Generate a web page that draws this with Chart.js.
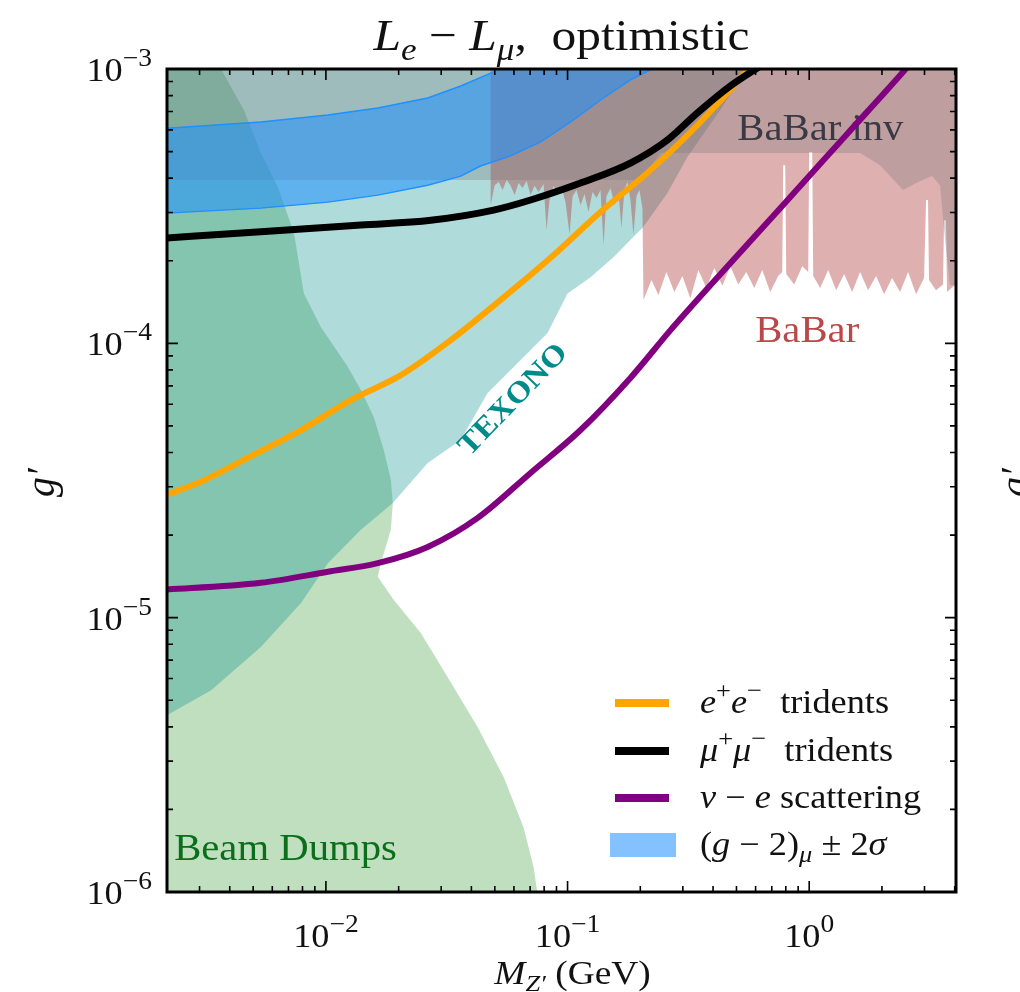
<!DOCTYPE html>
<html>
<head>
<meta charset="utf-8">
<script src="https://cdn.jsdelivr.net/npm/chart.js@4.4.0/dist/chart.umd.min.js"></script>
<style>
  html, body { margin: 0; padding: 0; background: #fff; }
  canvas { display: block; }
</style>
</head>
<body>
<canvas id="myChart" width="1020" height="992"></canvas>
<script>
// axis ranges: M_Z' in GeV, coupling g'
const massMin = 0.0022;
const massMax = 4.05;
const gMin = 1e-6;
const gMax = 1e-3;
// closing values used to shut the exclusion regions outside the frame
const massFloor = 0.002;
const gCeil = 1.2e-3;
const gFloor = 9e-7;

const xTickValues = [1e-2, 1e-1, 1];
const xTickLabels = ['10^−2', '10^−1', '10^0'];
const yTickValues = [1e-6, 1e-5, 1e-4, 1e-3];
const yTickLabels = ['10^−6', '10^−5', '10^−4', '10^−3'];

// e+e- tridents sensitivity
const eeMass = [0.002, 0.00304, 0.0049, 0.00789, 0.01269, 0.02042, 0.03286, 0.05285, 0.0851, 0.1369, 0.2203, 0.3548, 0.5546, 0.598];
const eeG = [2.73e-5, 3.13e-5, 3.88e-5, 4.83e-5, 6.21e-5, 7.66e-5, 1.028e-4, 1.44e-4, 2.05e-4, 3.01e-4, 4.28e-4, 6.41e-4, 9.92e-4, 1.08e-3];

// mu+mu- tridents sensitivity
const mmMass = [0.002, 0.00538, 0.01396, 0.02716, 0.04943, 0.07031, 0.1132, 0.182, 0.259, 0.3446, 0.4715, 0.6898];
const mmG = [2.41e-4, 2.55e-4, 2.7e-4, 2.81e-4, 3.06e-4, 3.33e-4, 3.84e-4, 4.54e-4, 5.51e-4, 6.92e-4, 8.67e-4, 1.08e-3];

// nu-e scattering sensitivity
const nueMass = [0.002, 0.00538, 0.01019, 0.0164, 0.02638, 0.04249, 0.07031, 0.1132, 0.182, 0.2667, 0.4011, 0.7586, 1.436, 2.445, 2.742];
const nueG = [1.26e-5, 1.34e-5, 1.47e-5, 1.58e-5, 1.81e-5, 2.31e-5, 3.37e-5, 4.83e-5, 7.48e-5, 1.117e-4, 1.673e-4, 3.11e-4, 5.8e-4, 9.75e-4, 1.097e-3];

// (g-2)_mu +- 2 sigma band edges
const bandUpperMass = [0.002, 0.00538, 0.01019, 0.0164, 0.02638, 0.03614, 0.04943, 0.05543];
const bandUpperG = [6.05e-4, 6.41e-4, 6.8e-4, 7.21e-4, 7.84e-4, 8.67e-4, 9.75e-4, 1.06e-3];
const bandLowerMass = [0.002, 0.00538, 0.01019, 0.0164, 0.02638, 0.03614, 0.04365, 0.05813, 0.07735, 0.1029, 0.1369, 0.1821, 0.2203, 0.254];
const bandLowerG = [2.97e-4, 3.11e-4, 3.27e-4, 3.47e-4, 3.77e-4, 4.07e-4, 4.43e-4, 4.82e-4, 5.42e-4, 6.41e-4, 7.71e-4, 9.12e-4, 9.92e-4, 1.08e-3];

// beam dump exclusion, upper/right edge from top down to the bottom
const beamMass = [0.003613, 0.00458, 0.00538, 0.00633, 0.00738, 0.00811, 0.00953, 0.01233, 0.01396, 0.01579, 0.01737, 0.01857, 0.01892, 0.01857, 0.01687, 0.0164, 0.0191, 0.0247, 0.03193, 0.04249, 0.05445, 0.06577, 0.07238, 0.07519];
const beamG = [1.03e-3, 7.09e-4, 4.94e-4, 3.71e-4, 2.52e-4, 1.52e-4, 1.146e-4, 8.2e-5, 6.76e-5, 5.38e-5, 4.08e-5, 3.18e-5, 2.62e-5, 2.09e-5, 1.58e-5, 1.41e-5, 1.16e-5, 8.79e-6, 6.07e-6, 3.99e-6, 2.62e-6, 1.72e-6, 1.23e-6, 9.75e-7];

// TEXONO exclusion, lower edge
const texonoMass = [0.002, 0.00335, 0.00538, 0.00789, 0.01019, 0.01396, 0.01892, 0.02638, 0.03614, 0.04667, 0.05984, 0.08264, 0.1, 0.1245, 0.1548, 0.2061, 0.259, 0.3133, 0.4285, 0.5813];
const texonoG = [4.2e-6, 5.44e-6, 7.82e-6, 1.13e-5, 1.58e-5, 2.09e-5, 2.62e-5, 3.66e-5, 4.44e-5, 6.59e-5, 8.2e-5, 1.09e-4, 1.52e-4, 1.74e-4, 2.06e-4, 2.66e-4, 3.53e-4, 4.78e-4, 7.09e-4, 1.08e-3];

// BaBar (visible) exclusion, jagged lower edge
const babarMass = [0.04806, 0.04993, 0.05186, 0.05387, 0.05596, 0.05813, 0.06039, 0.06273, 0.06516, 0.06769, 0.07031, 0.07304, 0.07588, 0.07955, 0.08185, 0.08423, 0.0875, 0.0909, 0.09445, 0.09811, 0.1019, 0.1049, 0.1089, 0.1132, 0.1175, 0.1221, 0.1268, 0.1318, 0.1369, 0.1409, 0.1449, 0.1506, 0.1564, 0.1625, 0.1671, 0.1719, 0.177, 0.1821, 0.1874, 0.1928, 0.1984, 0.2041, 0.2061,
  0.2224, 0.2377, 0.2565, 0.2767, 0.2986, 0.3222, 0.3477, 0.3752, 0.4049, 0.4369, 0.4715, 0.5088, 0.549, 0.5924, 0.6393, 0.6898, 0.7444, 0.7733, 0.7807, 0.7957, 0.8035, 0.867, 0.9356, 0.9905, 1.0, 1.029, 1.039, 1.11, 1.198, 1.293, 1.395, 1.505, 1.624, 1.753, 1.892, 2.041, 2.203, 2.377, 2.566, 2.768, 2.987, 3.045, 3.102, 3.132, 3.349, 3.579, 3.614, 3.683, 3.718, 3.975, 4.207];
const babarG = [3.19e-4, 3.77e-4, 3.87e-4, 3.62e-4, 3.94e-4, 3.75e-4, 3.47e-4, 3.84e-4, 3.68e-4, 3.91e-4, 3.47e-4, 3.75e-4, 3.56e-4, 3.81e-4, 2.59e-4, 3.33e-4, 3.75e-4, 3.5e-4, 3.68e-4, 3.27e-4, 2.5e-4, 3.44e-4, 3.62e-4, 3.19e-4, 3.5e-4, 3.01e-4, 3.56e-4, 3.39e-4, 3.62e-4, 2.28e-4, 3.44e-4, 3.68e-4, 3.19e-4, 3.53e-4, 2.63e-4, 3.62e-4, 3.87e-4, 3.33e-4, 2.48e-4, 3.44e-4, 3.62e-4, 3.11e-4, 1.44e-4,
  1.7e-4, 1.5e-4, 1.82e-4, 1.54e-4, 1.76e-4, 1.46e-4, 1.85e-4, 1.59e-4, 1.88e-4, 1.62e-4, 1.91e-4, 1.64e-4, 1.82e-4, 1.59e-4, 1.85e-4, 1.54e-4, 1.76e-4, 1.82e-4, 4.46e-4, 4.46e-4, 1.79e-4, 1.64e-4, 1.91e-4, 1.82e-4, 4.98e-4, 4.98e-4, 1.76e-4, 1.59e-4, 1.85e-4, 1.56e-4, 1.79e-4, 1.54e-4, 1.82e-4, 1.56e-4, 1.76e-4, 1.51e-4, 1.73e-4, 1.54e-4, 1.82e-4, 1.51e-4, 1.73e-4, 3.33e-4, 3.33e-4, 1.7e-4, 1.56e-4, 1.64e-4, 2.81e-4, 2.81e-4, 1.54e-4, 1.62e-4, 1.56e-4];

// BaBar invisible exclusion, lower edge
const invMass = [0.002, 0.2004, 0.2423, 1.624, 1.965, 2.445, 2.821, 3.224, 3.478, 3.65, 3.825, 4.207];
const invG = [3.94e-4, 3.94e-4, 4.94e-4, 4.94e-4, 4.46e-4, 3.62e-4, 3.87e-4, 4.07e-4, 3.77e-4, 2.38e-4, 1.63e-4, 1.63e-4];

const legendItems = [
  { label: 'ee', parts: [['e', 'i'], ['+', 'sup'], ['e', 'i'], ['−', 'sup'], ['  tridents', 'r']] },
  { label: 'mm', parts: [['μ', 'i'], ['+', 'sup'], ['μ', 'i'], ['−', 'sup'], ['  tridents', 'r']] },
  { label: 'nue', parts: [['ν', 'i'], [' − ', 'r'], ['e', 'i'], [' scattering', 'r']] },
  { label: 'band', parts: [['(', 'r'], ['g', 'i'], [' − 2)', 'r'], ['μ', 'isub'], [' ± 2', 'r'], ['σ', 'i']] }
];

const notes = [
  { text: 'BaBar inv', x: 0.504, y: 5.51e-4, color: '#3a3a46', font: '37px', align: 'left', angle: 0 },
  { text: 'BaBar', x: 0.981, y: 1.011e-4, color: '#bb4848', font: '37px', align: 'center', angle: 0 },
  { text: 'TEXONO', x: 0.0598, y: 6.21e-5, color: '#008b8b', font: 'bold 30px', align: 'center', angle: -46, middle: true },
  { text: 'Beam Dumps', x: 0.002355, y: 1.31e-6, color: '#0b6e1a', font: '37px', align: 'left', angle: 0 }
];

const serif = '"Liberation Serif", "DejaVu Serif", serif';
// the serif face is narrower than the TeX one, so text is widened a little
const widen = 1.1;

const toPoints = (xs, ys) => xs.map((x, i) => ({ x, y: ys[i] }));

const beamPoly = [{ x: massFloor, y: gCeil }, ...toPoints(beamMass, beamG), { x: massFloor, y: gFloor }];
const texonoPoly = [{ x: massFloor, y: gCeil }, ...toPoints(texonoMass, texonoG)];
const babarPoly = [{ x: babarMass[0], y: gCeil }, ...toPoints(babarMass, babarG), { x: babarMass[babarMass.length - 1], y: gCeil }];
const invPoly = [{ x: invMass[0], y: gCeil }, ...toPoints(invMass, invG), { x: invMass[invMass.length - 1], y: gCeil }];
const bandPoly = [...toPoints(bandUpperMass, bandUpperG), ...toPoints(bandLowerMass, bandLowerG).reverse()];

function region(label, data, color, order) {
  return {
    label, data, order, showLine: true, fill: 'shape', backgroundColor: color,
    borderColor: 'rgba(0,0,0,0)', borderWidth: 0, pointRadius: 0, tension: 0, clip: 0
  };
}

function curve(label, data, color, width, order) {
  return {
    label, data, order, showLine: true, fill: false, borderColor: color, backgroundColor: color,
    borderWidth: width, pointRadius: 0, cubicInterpolationMode: 'monotone', clip: 0
  };
}

const bandSet = region('band', bandPoly, 'rgba(30,144,255,0.55)', 3);
bandSet.borderColor = '#1e90ff';
bandSet.borderWidth = 1.4;

const datasets = [
  curve('mm', toPoints(mmMass, mmG), '#000000', 7, 0),
  curve('ee', toPoints(eeMass, eeG), '#ffa500', 6, 1),
  curve('nue', toPoints(nueMass, nueG), '#800080', 6, 2),
  bandSet,
  region('inv', invPoly, 'rgba(120,115,120,0.3)', 4),
  region('babar', babarPoly, 'rgba(172,57,57,0.4)', 5),
  region('texono', texonoPoly, 'rgba(0,139,139,0.31)', 6),
  region('beam', beamPoly, 'rgba(0,128,0,0.25)', 7)
];

// text with italic pieces, sub- and superscripts
function fontFor(kind, size, small) {
  const italic = kind === 'i' || kind === 'isub' || kind === 'isup';
  const isSmall = kind.endsWith('sub') || kind.endsWith('sup');
  return (italic ? 'italic ' : '') + (isSmall ? Math.round(size * small) : size) + 'px ' + serif;
}
function shiftFor(kind, size) {
  if (kind.endsWith('sup')) return -size * 0.45;
  if (kind.endsWith('sub')) return size * 0.22;
  return 0;
}
function drawRich(c, parts, x, y, size, align, small = 0.72) {
  let w = 0;
  for (const [t, k] of parts) { c.font = fontFor(k, size, small); w += c.measureText(t).width; }
  w *= widen;
  const x0 = align === 'center' ? x - w / 2 : align === 'right' ? x - w : x;
  c.save();
  c.translate(x0, y);
  c.scale(widen, 1);
  c.textAlign = 'left';
  c.textBaseline = 'alphabetic';
  let cx = 0;
  for (const [t, k] of parts) {
    c.font = fontFor(k, size, small);
    c.fillText(t, cx, shiftFor(k, size));
    cx += c.measureText(t).width;
  }
  c.restore();
}
function powerParts(label) {
  const [base, exp] = label.split('^');
  return [[base, 'r'], [exp, 'sup']];
}

function logTicks(min, max) {
  const out = [];
  for (let e = Math.floor(Math.log10(min)); e <= Math.ceil(Math.log10(max)); e++) {
    for (let k = 1; k < 10; k++) {
      const v = k * Math.pow(10, e);
      if (v >= min * 0.999 && v <= max * 1.001) out.push({ v, major: k === 1 });
    }
  }
  return out;
}

// region labels sit above the shaded areas but below the curves
const notesPlugin = {
  id: 'notes',
  afterDatasetDraw(chart, args) {
    if (chart.data.datasets[args.index].label !== 'band') return;
    const c = chart.ctx;
    const { x, y } = chart.scales;
    for (const n of notes) {
      c.save();
      c.translate(x.getPixelForValue(n.x), y.getPixelForValue(n.y));
      c.rotate(n.angle * Math.PI / 180);
      c.scale(widen, 1);
      c.font = n.font + ' ' + serif;
      c.fillStyle = n.color;
      c.textAlign = n.align;
      c.textBaseline = n.middle ? 'middle' : 'alphabetic';
      c.fillText(n.text, 0, 0);
      c.restore();
    }
  }
};

const framePlugin = {
  id: 'frame',
  afterDraw(chart) {
    const c = chart.ctx;
    const { left, right, top, bottom } = chart.chartArea;
    const { x, y } = chart.scales;
    c.save();

    // inward ticks on all four sides
    c.strokeStyle = '#000';
    c.lineWidth = 1.6;
    c.beginPath();
    for (const t of logTicks(massMin, massMax)) {
      const px = x.getPixelForValue(t.v);
      const len = t.major ? 11 : 6;
      c.moveTo(px, bottom); c.lineTo(px, bottom - len);
      c.moveTo(px, top); c.lineTo(px, top + len);
    }
    for (const t of logTicks(gMin, gMax)) {
      const py = y.getPixelForValue(t.v);
      const len = t.major ? 11 : 6;
      c.moveTo(left, py); c.lineTo(left + len, py);
      c.moveTo(right, py); c.lineTo(right - len, py);
    }
    c.stroke();

    c.lineWidth = 3;
    c.strokeRect(left, top, right - left, bottom - top);

    // tick labels
    c.fillStyle = '#111';
    xTickValues.forEach((v, i) => drawRich(c, powerParts(xTickLabels[i]), x.getPixelForValue(v), bottom + 55, 33, 'center', 0.76));
    yTickValues.forEach((v, i) => drawRich(c, powerParts(yTickLabels[i]), left - 15, y.getPixelForValue(v) + 12, 33, 'right', 0.76));

    // title and axis titles
    drawRich(c, [['L', 'i'], ['e', 'isub'], [' − ', 'r'], ['L', 'i'], ['μ', 'isub'], [',  optimistic', 'r']], (left + right) / 2, 50, 45, 'center');
    drawRich(c, [['M', 'i'], ['Z′', 'isub'], [' (GeV)', 'r']], (left + right) / 2 + 11, 984, 34, 'center');
    for (const cx of [43, 1017]) {
      c.save();
      c.translate(cx, (top + bottom) / 2 + 2);
      c.rotate(-Math.PI / 2);
      c.font = 'italic 40px ' + serif;
      c.textAlign = 'center';
      c.textBaseline = 'middle';
      c.fillText('g′', 0, 0);
      c.restore();
    }

    // legend
    const rows = [703, 751, 798, 845];
    legendItems.forEach((item, i) => {
      const ds = chart.data.datasets.find(d => d.label === item.label);
      const ry = rows[i];
      if (item.label === 'band') {
        c.fillStyle = ds.backgroundColor;
        c.fillRect(610, ry - 12, 66, 24);
      } else {
        c.fillStyle = ds.borderColor;
        c.fillRect(615, ry - 4, 54, 8);
      }
      c.fillStyle = '#111';
      drawRich(c, item.parts, 700, ry + 10, 33, 'left');
    });
    c.restore();
  }
};

const myChart = document.getElementById('myChart');
new Chart(myChart, {
  type: 'scatter',
  data: { datasets },
  options: {
    responsive: false,
    animation: false,
    events: [],
    layout: { padding: { top: 69, right: 64, bottom: 0, left: 0 } },
    plugins: { legend: { display: false }, tooltip: { enabled: false }, title: { display: false } },
    scales: {
      x: {
        type: 'logarithmic', position: 'bottom', min: massMin, max: massMax,
        ticks: { display: false }, grid: { display: false }, border: { display: false },
        afterFit: (s) => { s.height = 100; }
      },
      y: {
        type: 'logarithmic', position: 'left', min: gMin, max: gMax,
        ticks: { display: false }, grid: { display: false }, border: { display: false },
        afterFit: (s) => { s.width = 167; }
      }
    }
  },
  plugins: [notesPlugin, framePlugin]
});
</script>
</body>
</html>
